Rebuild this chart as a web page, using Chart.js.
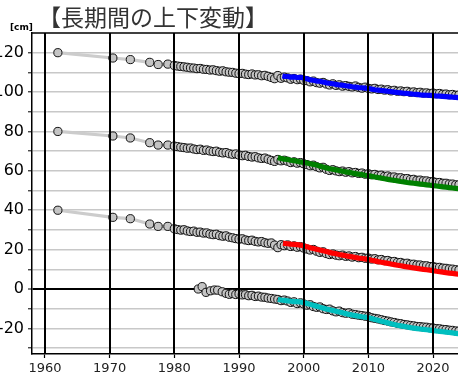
<!DOCTYPE html>
<html>
<head>
<meta charset="utf-8">
<script src="https://cdn.jsdelivr.net/npm/chart.js@4.4.1/dist/chart.umd.min.js"></script>
<style>
html,body{margin:0;padding:0;background:#fff;overflow:hidden;}
#wrap{position:relative;width:458px;height:383px;}
</style>
</head>
<body>
<div id="wrap"><canvas id="c" width="458" height="383"></canvas></div>
<script>
// ---- text ----
const titleText = "【長期間の上下変動】";
const unitText = "[cm]";

// ---- ticks ----
const xTicks = [1960, 1970, 1980, 1990, 2000, 2010, 2020];
const yGridValues = [-30, -20, -10, 0, 10, 20, 30, 40, 50, 60, 70, 80, 90, 100, 110, 120];
const yLabelValues = [-20, 0, 20, 40, 60, 80, 100, 120];

// ---- leveling survey (gray circles), stations offset +120/+80/+40 ----
const grayYears = [1962, 1970.5, 1973.2, 1976.2, 1977.5, 1979.0, 1980.0,
  1980.5, 1981, 1981.5, 1982, 1982.5, 1983, 1983.5, 1984, 1984.5, 1985,
  1985.5, 1986, 1986.5, 1987, 1987.5, 1988, 1988.5, 1989, 1989.5, 1990,
  1990.5, 1991, 1991.5, 1992, 1992.5, 1993, 1993.5, 1994, 1994.5, 1995,
  1995.5, 1996, 1996.5, 1997, 1997.5, 1998, 1998.5, 1999, 1999.5, 2000,
  2000.5, 2001, 2001.5, 2002, 2002.5, 2003, 2003.5, 2004, 2004.5, 2005,
  2005.5, 2006, 2006.5, 2007, 2007.5, 2008, 2008.5, 2009, 2009.5, 2010,
  2010.5, 2011, 2011.5, 2012, 2012.5, 2013, 2013.5, 2014, 2014.5, 2015,
  2015.5, 2016, 2016.5, 2017, 2017.5, 2018, 2018.5, 2019, 2019.5, 2020,
  2020.5, 2021, 2021.5, 2022, 2022.5, 2023, 2023.5, 2024];

const grayA = [120, 117.3, 116.5, 115.1, 114.0, 114.2, 113.5,
  113.2, 113.0, 112.8, 112.6, 112.3, 112.2, 111.9, 112.0, 111.6, 111.5,
  111.2, 111.3, 110.9, 110.6, 110.8, 110.3, 110.1, 110.0, 109.6, 109.4,
  109.5, 109.1, 108.9, 109.2, 108.7, 108.8, 108.3, 108.5, 108.0, 107.4,
  106.8, 108.4, 107.0, 107.6, 107.2, 106.5, 106.9, 106.3, 106.6, 106.0,
  105.8, 105.2, 105.6, 104.8, 104.5, 104.9, 104.1, 103.6, 104.2, 103.4,
  103.7, 103.0, 103.3, 102.9, 102.6, 103.1, 102.4, 102.0, 102.5, 101.9,
  101.6, 101.9, 101.3, 101.5, 101.0, 101.2, 100.6, 100.9, 100.4, 100.6,
  100.2, 100.4, 99.9, 100.1, 99.7, 99.9, 99.5, 99.6, 99.3, 99.5,
  99.1, 99.3, 98.9, 99.0, 98.6, 98.8, 98.4, 98.5];

const grayB = [80, 77.7, 76.7, 74.3, 73.1, 73.1, 72.6,
  72.3, 72.0, 71.8, 71.5, 71.6, 71.1, 70.8, 71.0, 70.4, 70.6,
  70.1, 69.8, 70.0, 69.4, 69.1, 69.3, 68.7, 68.4, 68.6, 68.0,
  67.7, 67.9, 67.3, 67.0, 67.2, 66.6, 66.3, 66.5, 65.9, 65.3,
  64.8, 65.8, 65.1, 65.4, 64.9, 64.2, 64.6, 63.9, 64.2, 63.6,
  63.2, 62.6, 62.9, 62.1, 61.5, 61.8, 60.8, 60.2, 60.6, 60.0,
  59.6, 59.9, 59.3, 59.6, 59.0, 59.2, 58.7, 58.9, 58.3, 58.5,
  58.0, 58.2, 57.6, 57.8, 57.2, 57.4, 56.8, 56.9, 56.4, 56.5,
  56.0, 56.1, 55.6, 55.7, 55.2, 55.3, 54.9, 54.9, 54.5, 54.5,
  54.1, 54.1, 53.7, 53.7, 53.3, 53.3, 52.9, 52.9];

const grayC = [40, 36.4, 35.7, 33.0, 31.8, 31.8, 30.6,
  30.2, 29.9, 30.1, 29.5, 29.2, 29.4, 28.8, 28.9, 28.4, 28.5,
  27.9, 27.6, 27.8, 27.1, 26.8, 27.0, 26.3, 26.0, 25.6, 25.3,
  25.5, 24.9, 24.6, 24.8, 24.2, 23.9, 24.1, 23.5, 23.2, 23.4,
  22.3, 21.0, 22.5, 22.0, 22.4, 21.6, 21.9, 21.2, 21.5, 20.8,
  20.3, 19.8, 20.1, 19.2, 18.6, 18.9, 18.0, 17.5, 17.8, 17.2,
  16.9, 17.2, 16.6, 16.8, 16.2, 16.5, 15.9, 16.1, 15.6, 15.7,
  15.2, 15.4, 14.8, 15.0, 14.4, 14.5, 13.9, 14.0, 13.5, 13.5,
  13.0, 13.1, 12.6, 12.6, 12.2, 12.2, 11.8, 11.8, 11.4, 11.4,
  11.0, 11.0, 10.6, 10.5, 10.2, 10.1, 9.8, 9.6];

const grayDYears = [1983.7, 1984.3, 1984.9, 1985.6, 1986.2, 1986.7, 1987.4, 1988.0, 1988.5,
  1989, 1989.5, 1990, 1990.5, 1991, 1991.5, 1992, 1992.5, 1993, 1993.5,
  1994, 1994.5, 1995, 1995.5, 1996, 1996.5, 1997, 1997.5, 1998, 1998.5,
  1999, 1999.5, 2000, 2000.5, 2001, 2001.5, 2002, 2002.5, 2003, 2003.5,
  2004, 2004.5, 2005, 2005.5, 2006, 2006.5, 2007, 2007.5, 2008, 2008.5,
  2009, 2009.5, 2010, 2010.5, 2011, 2011.5, 2012, 2012.5, 2013, 2013.5,
  2014, 2014.5, 2015, 2015.5, 2016, 2016.5, 2017, 2017.5, 2018, 2018.5,
  2019, 2019.5, 2020, 2020.5, 2021, 2021.5, 2022, 2022.5, 2023, 2023.5,
  2024];
const grayD = [0.0, 1.2, -1.7, -0.9, -0.5, -0.6, -1.4, -2.2, -2.7,
  -2.3, -2.8, -2.4, -3.0, -2.9, -3.4, -3.2, -3.8, -3.6, -4.1,
  -4.2, -4.6, -4.8, -5.1, -5.3, -5.9, -5.6, -6.1, -6.8, -6.5,
  -7.4, -7.0, -7.6, -8.2, -8.0, -8.9, -9.3, -9.1, -10.0, -10.4,
  -10.2, -11.1, -11.6, -11.2, -12.0, -12.3, -12.1, -12.8, -13.0, -13.3,
  -13.5, -13.8, -14.0, -14.6, -14.9, -15.2, -15.6, -16.0, -16.3, -16.7,
  -17.0, -17.4, -17.6, -18.0, -18.2, -18.5, -18.7, -19.0, -19.1, -19.3,
  -19.4, -19.7, -19.8, -20.1, -20.2, -20.5, -20.6, -20.9, -21.0, -21.3,
  -21.4];

// ---- GNSS (coloured lines) ----
const gnssYears = [1997, 1997.5, 1998, 1998.5, 1999, 1999.5, 2000, 2000.5, 2001, 2001.5,
  2002, 2002.5, 2003, 2003.5, 2004, 2004.5, 2005, 2005.5, 2006, 2006.5,
  2007, 2007.5, 2008, 2008.5, 2009, 2009.5, 2010, 2010.5, 2011, 2011.5,
  2012, 2012.5, 2013, 2013.5, 2014, 2014.5, 2015, 2015.5, 2016, 2016.5,
  2017, 2017.5, 2018, 2018.5, 2019, 2019.5, 2020, 2020.5, 2021, 2021.5,
  2022, 2022.5, 2023, 2023.5, 2024];

const blueStartYears = [1996.7];
const blueVals = [108.2,
  108.0, 107.9, 107.6, 107.7, 107.4, 107.5, 107.1, 106.8, 106.2, 106.0,
  105.6, 105.5, 105.1, 104.7, 104.5, 104.2, 103.9, 103.6, 103.5, 103.2,
  103.0, 102.7, 102.5, 102.3, 102.2, 102.0, 101.8, 101.5, 101.2, 101.0,
  100.8, 100.6, 100.4, 100.2, 100.0, 99.8, 99.6, 99.4, 99.3, 99.1,
  98.9, 98.8, 98.6, 98.5, 98.4, 98.3, 98.2, 98.0, 97.9, 97.8,
  97.7, 97.6, 97.4, 97.3, 97.2];

const greenStartYears = [1996.0, 1996.5];
const greenVals = [66.7, 66.3,
  65.9, 65.8, 65.4, 65.2, 64.9, 64.5, 64.3, 64.0, 63.6, 63.3,
  63.0, 62.4, 62.0, 61.5, 61.1, 60.8, 60.5, 60.2, 59.8, 59.5,
  59.2, 58.9, 58.6, 58.3, 58.1, 57.8, 57.5, 57.2, 56.9, 56.6,
  56.3, 56.0, 55.7, 55.4, 55.2, 54.9, 54.6, 54.4, 54.1, 53.9,
  53.7, 53.5, 53.3, 53.1, 52.9, 52.7, 52.5, 52.3, 52.1, 51.9,
  51.7, 51.5, 51.3, 51.1, 50.9];

const redStartYears = [1996.8];
const redVals = [23.3,
  23.2, 23.0, 22.8, 22.7, 22.5, 22.3, 22.0, 21.5, 21.0, 20.6,
  20.2, 19.8, 19.4, 19.0, 18.6, 18.2, 17.9, 17.5, 17.2, 16.9,
  16.6, 16.3, 16.0, 15.7, 15.5, 15.3, 15.0, 14.6, 14.3, 13.9,
  13.6, 13.3, 13.0, 12.7, 12.4, 12.1, 11.8, 11.5, 11.2, 11.0,
  10.7, 10.5, 10.2, 10.0, 9.8, 9.6, 9.3, 9.0, 8.8, 8.6,
  8.3, 8.1, 7.9, 7.7, 7.5];

const cyanStartYears = [1996.0, 1996.5];
const cyanVals = [-5.3, -5.6,
  -5.8, -6.0, -6.2, -6.4, -6.4, -6.6, -6.9, -7.3, -7.8, -8.3,
  -8.7, -9.2, -9.7, -10.1, -10.5, -10.9, -11.3, -11.7, -12.1, -12.5,
  -12.9, -13.2, -13.5, -13.8, -14.1, -14.3, -14.6, -15.0, -15.5, -15.9,
  -16.4, -16.8, -17.2, -17.6, -18.0, -18.4, -18.7, -19.0, -19.3, -19.6,
  -19.9, -20.1, -20.3, -20.5, -20.7, -20.9, -21.1, -21.3, -21.5, -21.7,
  -21.9, -22.1, -22.3, -22.5, -22.7];

function pts(xs, ys) { return xs.map((x, i) => ({ x: x, y: ys[i] })); }

function grayDataset(xs, ys) {
  return {
    data: pts(xs, ys), showLine: true, order: 2,
    borderColor: '#cccccc', borderWidth: 3.2,
    pointRadius: 4.1, pointBackgroundColor: '#c4c4c4',
    pointBorderColor: '#111', pointBorderWidth: 1
  };
}
function lineDataset(xs, ys, color) {
  return {
    data: pts(xs, ys), showLine: true, order: 1,
    borderColor: color, borderWidth: 5.2, pointRadius: 0,
    borderCapStyle: 'butt', borderJoinStyle: 'round'
  };
}

const overlay = {
  id: 'overlay',
  afterDatasetsDraw(chart) {
    const c = chart.ctx, a = chart.chartArea, xs = chart.scales.x;
    c.save();
    c.strokeStyle = '#000';
    c.lineWidth = 2;
    xTicks.forEach(v => {
      const px = Math.round(xs.getPixelForValue(v));
      c.beginPath(); c.moveTo(px, a.top); c.lineTo(px, a.bottom); c.stroke();
    });
    c.lineWidth = 1.5;
    c.beginPath(); c.moveTo(a.left, a.top); c.lineTo(a.right, a.top); c.stroke();
    c.restore();
  },
  afterDraw(chart) {
    const c = chart.ctx;
    c.save();
    c.fillStyle = '#333';
    c.textBaseline = 'middle';
    c.textAlign = 'left';
    c.font = '23px "Noto Sans CJK JP"';
    c.fillText(titleText, 38, 17);
    c.fillStyle = '#000';
    c.textBaseline = 'alphabetic';
    c.font = 'bold 9px "DejaVu Sans"';
    c.fillText(unitText, 10, 30);
    c.restore();
  }
};

new Chart(document.getElementById('c'), {
  type: 'scatter',
  data: {
    datasets: [
      lineDataset(blueStartYears.concat(gnssYears), blueVals, '#0000ff'),
      lineDataset(greenStartYears.concat(gnssYears), greenVals, '#008000'),
      lineDataset(redStartYears.concat(gnssYears), redVals, '#ff0000'),
      lineDataset(cyanStartYears.concat(gnssYears), cyanVals, '#00bfbf'),
      grayDataset(grayYears, grayA),
      grayDataset(grayYears, grayB),
      grayDataset(grayYears, grayC),
      grayDataset(grayDYears, grayD)
    ]
  },
  options: {
    responsive: false, animation: false, devicePixelRatio: 1,
    layout: { autoPadding: false, padding: { top: 33, right: 0, left: 0, bottom: 0 } },
    plugins: { legend: { display: false }, tooltip: { enabled: false }, title: { display: false } },
    scales: {
      x: {
        type: 'linear', min: 1958, max: 2023.85,
        afterBuildTicks: s => { s.ticks = xTicks.map(v => ({ value: v })); },
        afterFit: s => { s.height = 29; s.paddingLeft = 0; s.paddingRight = 0; },
        grid: { display: true, drawOnChartArea: false, drawTicks: true, tickLength: 4, tickColor: '#000', tickWidth: 1.2 },
        border: { display: true, color: '#000', width: 1.5 },
        ticks: { font: { family: 'DejaVu Sans', size: 13 }, color: '#222', padding: 3, maxRotation: 0, autoSkip: false, callback: v => String(v) }
      },
      y: {
        type: 'linear', min: -33, max: 130,
        afterBuildTicks: s => { s.ticks = yGridValues.map(v => ({ value: v })); },
        afterFit: s => { s.width = 32; s.paddingTop = 0; s.paddingBottom = 0; },
        grid: {
          color: c => (c.tick && c.tick.value === 0) ? '#000' : '#c8c8c8',
          lineWidth: c => (c.tick && c.tick.value === 0) ? 2 : 1.6,
          tickColor: '#000', tickLength: 4, tickWidth: 1, drawTicks: true
        },
        border: { display: true, color: '#000', width: 1.5 },
        ticks: { font: { family: 'DejaVu Sans', size: 16 }, color: '#000', padding: 4, autoSkip: false,
          callback: v => yLabelValues.includes(v) ? String(v) : '' }
      }
    }
  },
  plugins: [overlay]
});
</script>
</body>
</html>
